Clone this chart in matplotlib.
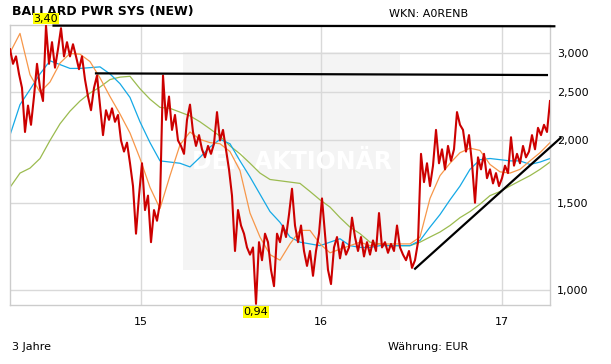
import matplotlib.pyplot as plt
import matplotlib.dates as mdates
from matplotlib.patches import Rectangle
from matplotlib.ticker import FixedLocator, FuncFormatter, NullLocator
import numpy as np
import pandas as pd

START, END = "2014-04-11", "2017-04-09"

# close price (EUR), roughly every 6 days
price = [
    3.05, 2.85, 2.95, 2.72, 2.55, 2.08, 2.35, 2.15, 2.45, 2.85, 2.55, 2.40,
    3.40, 2.85, 3.15, 2.80, 3.05, 3.36, 2.95, 3.15, 2.95, 3.12, 2.95, 2.78,
    2.95, 2.65, 2.45, 2.30, 2.55, 2.70, 2.35, 2.05, 2.30, 2.20, 2.32, 2.18,
    2.25, 2.00, 1.90, 1.98, 1.80, 1.62, 1.30, 1.55, 1.80, 1.45, 1.55, 1.25,
    1.45, 1.38, 1.50, 2.70, 2.20, 2.45, 2.10, 2.25, 2.00, 1.95, 1.88, 2.20,
    2.36, 2.08, 1.95, 2.05, 1.92, 1.85, 1.95, 1.88, 1.97, 2.28, 2.00, 2.10,
    1.92, 1.75, 1.55, 1.20, 1.45, 1.35, 1.30, 1.22, 1.18, 1.22, 0.94, 1.25,
    1.15, 1.30, 1.25, 1.10, 1.02, 1.30, 1.25, 1.35, 1.28, 1.42, 1.60, 1.35,
    1.25, 1.35, 1.20, 1.12, 1.20, 1.07, 1.20, 1.30, 1.53, 1.30, 1.10, 1.03,
    1.22, 1.28, 1.16, 1.25, 1.18, 1.22, 1.40, 1.28, 1.20, 1.28, 1.17, 1.25,
    1.18, 1.26, 1.20, 1.43, 1.22, 1.25, 1.19, 1.24, 1.20, 1.35, 1.22, 1.18,
    1.15, 1.20, 1.11, 1.15, 1.25, 1.88, 1.65, 1.80, 1.62, 1.78, 2.10, 1.80,
    1.92, 1.75, 1.95, 1.82, 1.92, 2.28, 2.15, 2.10, 1.90, 2.05, 1.80, 1.50,
    1.85, 1.75, 1.88, 1.68, 1.75, 1.64, 1.72, 1.62, 1.68, 1.78, 1.72, 2.03,
    1.78, 1.88, 1.80, 1.95, 1.85, 1.90, 2.05, 1.92, 2.12, 2.05, 2.15, 2.08,
    2.40,
]

# moving averages, sampled every ~20 days
ma_short = [
    3.00, 3.28, 2.71, 2.50, 2.62, 2.86, 2.99, 2.98, 2.88, 2.67, 2.45, 2.26,
    2.07, 1.84, 1.61, 1.46, 1.70, 1.96, 2.08, 2.01, 1.98, 1.97, 1.90, 1.74,
    1.43, 1.28, 1.18, 1.15, 1.24, 1.32, 1.32, 1.24, 1.19, 1.21, 1.23, 1.25,
    1.23, 1.24, 1.24, 1.24, 1.24, 1.28, 1.53, 1.70, 1.80, 1.89, 1.93, 1.91,
    1.79, 1.73, 1.72, 1.75, 1.82, 1.89, 1.98,
]
ma_mid = [
    2.05, 2.36, 2.53, 2.72, 2.89, 2.84, 2.79, 2.79, 2.80, 2.81, 2.72, 2.60,
    2.44, 2.18, 1.98, 1.82, 1.81, 1.80, 1.77, 1.85, 1.94, 2.01, 1.97, 1.82,
    1.69, 1.56, 1.44, 1.37, 1.28, 1.25, 1.24, 1.23, 1.25, 1.27, 1.23, 1.22,
    1.22, 1.23, 1.23, 1.23, 1.23, 1.26, 1.34, 1.42, 1.52, 1.62, 1.75, 1.83,
    1.84, 1.83, 1.82, 1.82, 1.79, 1.81, 1.84,
]
ma_long = [
    1.61, 1.72, 1.76, 1.84, 2.00, 2.16, 2.29, 2.40, 2.49, 2.56, 2.65, 2.68,
    2.69, 2.54, 2.42, 2.33, 2.32, 2.28, 2.24, 2.18, 2.11, 2.04, 1.95, 1.88,
    1.80, 1.72, 1.67, 1.66, 1.65, 1.64, 1.58, 1.52, 1.47, 1.40, 1.34, 1.30,
    1.25, 1.24, 1.23, 1.23, 1.23, 1.25, 1.28, 1.31, 1.35, 1.40, 1.44, 1.49,
    1.55, 1.58, 1.62, 1.66, 1.70, 1.75, 1.81,
]

# hand-drawn trend lines: (start date, end date), (start value, end value)
trend_dates = [("2014-07-06", "2017-04-20"),
               ("2014-09-30", "2017-04-05"),
               ("2016-07-08", "2017-05-02")]
trend_values = [(3.40, 3.39), (2.727, 2.706), (1.102, 2.03)]

y_ticks = [1.0, 1.5, 2.0, 2.5, 3.0]

price_dates = pd.date_range(START, END, periods=len(price))
ma_dates = pd.date_range(START, END, periods=len(ma_short))

fig = plt.figure(figsize=(6.11, 3.64), dpi=100)
ax = fig.add_axes([10 / 611, 59 / 364, 540 / 611, 280 / 364])

# watermark panel
ax.add_patch(Rectangle((0.320, 0.125), 0.402, 0.779, transform=ax.transAxes,
                       facecolor="#f4f4f4", edgecolor="none", zorder=0.1))
ax.text(0.523, 0.51, "DER AKTIONÄR", transform=ax.transAxes, color="white",
        fontsize=17, fontweight="bold", ha="center", va="center", zorder=0.6)

ax.plot(ma_dates, ma_long, color="#9bbb4f", lw=0.9, zorder=2)
ax.plot(ma_dates, ma_mid, color="#15a9e6", lw=0.9, zorder=2)
ax.plot(ma_dates, ma_short, color="#f7974a", lw=0.9, zorder=2)
ax.plot(price_dates, price, color="#cc0000", lw=1.5, zorder=3)

for (d0, d1), (v0, v1) in zip(trend_dates, trend_values):
    ax.plot(pd.to_datetime([d0, d1]), [v0, v1], color="black", lw=1.6,
            solid_capstyle="butt", clip_on=False, zorder=4)

# title sits under the max label, as in the reference
ax.text(12 / 611, 1 - 12 / 364, "BALLARD PWR SYS (NEW)", transform=fig.transFigure,
        fontsize=9, fontweight="bold", va="center", ha="left", zorder=4.5)

arr = np.asarray(price)
i_max, i_min = int(arr.argmax()), int(arr.argmin())
box = dict(boxstyle="square,pad=0.08", facecolor="#ffff00", edgecolor="none")
ax.annotate(f"{arr[i_max]:.2f}".replace(".", ","), (price_dates[i_max], arr[i_max]),
            xytext=(0, 1.5), textcoords="offset points", ha="center", va="bottom",
            fontsize=8, bbox=box, annotation_clip=False, zorder=5)
ax.annotate(f"{arr[i_min]:.2f}".replace(".", ","), (price_dates[i_min], arr[i_min]),
            xytext=(0, -2.5), textcoords="offset points", ha="center", va="top",
            fontsize=8, bbox=box, annotation_clip=False, zorder=5)

ax.set_yscale("log")
ax.set_ylim(0.935, 3.41)
ax.set_xlim(pd.Timestamp(START), pd.Timestamp(END))
ax.yaxis.set_major_locator(FixedLocator(y_ticks))
ax.yaxis.set_minor_locator(NullLocator())
ax.yaxis.set_major_formatter(FuncFormatter(lambda v, _: f"{v:.3f}".replace(".", ",")))
ax.yaxis.tick_right()
ax.xaxis.set_major_locator(mdates.YearLocator())
ax.xaxis.set_major_formatter(mdates.DateFormatter("%y"))
ax.tick_params(axis="y", length=0, pad=5, labelsize=8)
ax.tick_params(axis="x", length=0, pad=8.5, labelsize=8)

ax.set_axisbelow(True)
ax.grid(True, color="#d9d9d9", lw=1.0)
for sp in ax.spines.values():
    sp.set_color("#cccccc")
    sp.set_linewidth(1.0)

fig.text(389 / 611, 1 - 14 / 364, "WKN: A0RENB", fontsize=8, va="center", ha="left")
fig.text(12 / 611, 1 - 347 / 364, "3 Jahre", fontsize=8, va="center", ha="left")
fig.text(388 / 611, 1 - 347 / 364, "Währung: EUR", fontsize=8, va="center", ha="left")

plt.savefig("out.png", dpi=100)
plt.close()
